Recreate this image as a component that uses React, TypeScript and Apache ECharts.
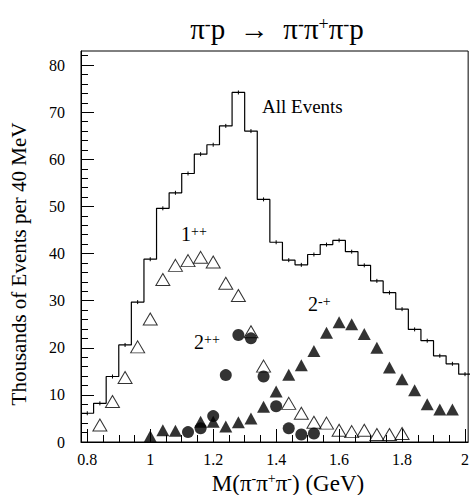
import React, { useEffect, useRef } from "react";
import * as echarts from "echarts";

// ---- data ----
const binStarts = [0.78, 0.82, 0.86, 0.90, 0.94, 0.98, 1.02, 1.06, 1.10, 1.14, 1.18, 1.22, 1.26, 1.30, 1.34, 1.38, 1.42, 1.46, 1.50, 1.54, 1.58, 1.62, 1.66, 1.70, 1.74, 1.78, 1.82, 1.86, 1.90, 1.94, 1.98];
const allEvents = [6.1, 8.2, 13.9, 20.6, 29.7, 38.8, 49.6, 52.9, 57.0, 61.1, 63.1, 67.1, 74.2, 66.0, 51.5, 42.4, 38.6, 37.6, 39.8, 41.9, 42.8, 40.4, 37.5, 34.2, 31.7, 28.2, 23.9, 21.5, 18.3, 16.6, 14.4];
const binWidth = 0.04;

const wave1ppX = [0.84, 0.88, 0.92, 0.96, 1.00, 1.04, 1.08, 1.12, 1.16, 1.20, 1.24, 1.28, 1.32, 1.36, 1.44, 1.48, 1.52, 1.56, 1.60, 1.64, 1.68, 1.72, 1.76, 1.80];
const wave1ppY = [3.6, 8.6, 13.7, 20.2, 26.1, 34.5, 37.5, 38.5, 39.2, 38.2, 33.7, 31.1, 23.4, 16.1, 8.2, 6.1, 4.2, 4.0, 2.5, 2.2, 2.5, 1.6, 1.6, 1.8];

const wave2ppX = [1.12, 1.16, 1.20, 1.24, 1.28, 1.32, 1.36, 1.40, 1.44, 1.48, 1.52];
const wave2ppY = [2.1, 2.9, 5.5, 14.2, 22.7, 22.0, 13.9, 7.6, 2.9, 1.6, 1.8];

const wave2mpX = [1.00, 1.04, 1.08, 1.16, 1.20, 1.24, 1.28, 1.32, 1.36, 1.40, 1.44, 1.48, 1.52, 1.56, 1.60, 1.64, 1.68, 1.72, 1.76, 1.80, 1.84, 1.88, 1.92, 1.96];
const wave2mpY = [1.2, 2.5, 2.4, 4.3, 4.3, 3.3, 4.2, 5.0, 7.5, 10.7, 14.3, 16.3, 19.3, 23.2, 25.4, 25.0, 22.9, 20.0, 15.8, 13.3, 11.0, 8.0, 6.9, 6.9];

const xTickLabels = [0.8, 1.0, 1.2, 1.4, 1.6, 1.8, 2.0];
const xMinorTicks = [0.85, 0.9, 0.95, 1.05, 1.1, 1.15, 1.25, 1.3, 1.35, 1.45, 1.5, 1.55, 1.65, 1.7, 1.75, 1.85, 1.9, 1.95];
const yTickLabels = [0, 10, 20, 30, 40, 50, 60, 70, 80];
const yMinorTicks = [2, 4, 6, 8, 12, 14, 16, 18, 22, 24, 26, 28, 32, 34, 36, 38, 42, 44, 46, 48, 52, 54, 56, 58, 62, 64, 66, 68, 72, 74, 76, 78, 82];

const F = "Liberation Serif";

export default function App() {
  const ref = useRef<HTMLDivElement>(null);
  useEffect(() => {
    const chart = echarts.init(ref.current!, null, { renderer: "svg" });
    const histData: number[][] = binStarts.map((x, i) => [x, allEvents[i]]);
    histData.push([binStarts[binStarts.length - 1] + binWidth, allEvents[allEvents.length - 1]]);
    const errData = binStarts.map((x, i) => [x + binWidth / 2, allEvents[i]]);

    const xBase = { type: "value", min: 0.78, max: 2.01, position: "bottom", splitLine: { show: false } };
    const yBase = { type: "value", min: 0, max: 83, position: "left", splitLine: { show: false } };

    const sup = (fs: number) => ({ fontSize: fs, fontFamily: F, fill: "#000", color: "#000", verticalAlign: "top" });
    const nor = (fs: number) => ({ fontSize: fs, fontFamily: F, fill: "#000", color: "#000" });

    const option: any = {
      animation: false,
      textStyle: { fontFamily: F },
      grid: { left: 81, top: 51, right: 1, bottom: 53, show: true, borderColor: "#000", borderWidth: 1, backgroundColor: "transparent" },
      xAxis: [
        {
          ...xBase,
          axisLine: { show: true, onZero: false, lineStyle: { color: "#000", width: 1 } },
          axisTick: { show: true, inside: true, length: 13, customValues: xTickLabels, lineStyle: { color: "#000" } },
          axisLabel: { customValues: xTickLabels, color: "#000", fontSize: 16, fontFamily: F, margin: 9, formatter: (v: number) => String(Math.round(v * 10) / 10) },
        },
        {
          ...xBase,
          axisLine: { show: false },
          axisTick: { show: true, inside: true, length: 7, customValues: xMinorTicks, lineStyle: { color: "#000" } },
          axisLabel: { show: false },
        },
      ],
      yAxis: [
        {
          ...yBase,
          axisLine: { show: true, onZero: false, lineStyle: { color: "#000", width: 1 } },
          axisTick: { show: true, inside: true, length: 13, customValues: yTickLabels, lineStyle: { color: "#000" } },
          axisLabel: { customValues: yTickLabels, color: "#000", fontSize: 16, fontFamily: F, margin: 16 },
        },
        {
          ...yBase,
          axisLine: { show: false },
          axisTick: { show: true, inside: true, length: 7, customValues: yMinorTicks, lineStyle: { color: "#000" } },
          axisLabel: { show: false },
        },
      ],
      series: [
        {
          type: "line",
          name: "All Events",
          data: histData,
          step: "end",
          showSymbol: false,
          symbol: "none",
          lineStyle: { color: "#000", width: 1.2 },
          z: 2,
        },
        {
          type: "custom",
          name: "errors",
          data: errData,
          z: 2,
          renderItem: (params: any, api: any) => {
            const p = api.coord([api.value(0), api.value(1)]);
            return { type: "line", shape: { x1: p[0], y1: p[1] - 2, x2: p[0], y2: p[1] + 2 }, style: { stroke: "#000", lineWidth: 1 } };
          },
        },
        {
          type: "scatter",
          name: "1++",
          data: wave1ppX.map((x, i) => [x, wave1ppY[i]]),
          symbol: "triangle",
          symbolSize: [14, 12],
          itemStyle: { color: "rgba(255,255,255,0)", borderColor: "#000", borderWidth: 1 },
          z: 3,
        },
        {
          type: "scatter",
          name: "2-+",
          data: wave2mpX.map((x, i) => [x, wave2mpY[i]]),
          symbol: "triangle",
          symbolSize: [13, 12],
          itemStyle: { color: "#000" },
          z: 4,
        },
        {
          type: "scatter",
          name: "2++",
          data: wave2ppX.map((x, i) => [x, wave2ppY[i]]),
          symbol: "circle",
          symbolSize: 12,
          itemStyle: { color: "#000" },
          z: 5,
        },
      ],
      graphic: [
        {
          type: "text", x: 277, y: 29, z: 10,
          style: {
            text: "{n|π}{s|-}{n|p  →  π}{s|-}{n|π}{s|+}{n|π}{s|-}{n|p}",
            rich: { n: nor(29), s: sup(18) },
            font: "29px Liberation Serif",
            align: "center", verticalAlign: "middle", textAlign: "center", textVerticalAlign: "middle",
          },
        },
        {
          type: "text", x: 288, y: 483, z: 10,
          style: {
            text: "{n|M(π}{s|-}{n|π}{s|+}{n|π}{s|-}{n|) (GeV)}",
            rich: { n: nor(23), s: sup(14) },
            font: "23px Liberation Serif",
            align: "center", verticalAlign: "middle", textAlign: "center", textVerticalAlign: "middle",
          },
        },
        {
          type: "text", x: 19, y: 264, rotation: Math.PI / 2, z: 10,
          style: {
            text: "Thousands of Events per 40 MeV",
            font: "21px Liberation Serif", fill: "#000",
            align: "center", verticalAlign: "middle", textAlign: "center", textVerticalAlign: "middle",
          },
        },
        {
          type: "text", x: 262, y: 106.5, z: 10,
          style: { text: "All Events", font: "19px Liberation Serif", fill: "#000", align: "left", verticalAlign: "middle", textAlign: "left", textVerticalAlign: "middle" },
        },
        {
          type: "text", x: 181, y: 234, z: 10,
          style: {
            text: "{n|1}{s|++}", rich: { n: nor(20), s: sup(14) }, font: "20px Liberation Serif",
            align: "left", verticalAlign: "middle", textAlign: "left", textVerticalAlign: "middle",
          },
        },
        {
          type: "text", x: 194, y: 342, z: 10,
          style: {
            text: "{n|2}{s|++}", rich: { n: nor(20), s: sup(14) }, font: "20px Liberation Serif",
            align: "left", verticalAlign: "middle", textAlign: "left", textVerticalAlign: "middle",
          },
        },
        {
          type: "text", x: 308, y: 304, z: 10,
          style: {
            text: "{n|2}{s|-+}", rich: { n: nor(20), s: sup(14) }, font: "20px Liberation Serif",
            align: "left", verticalAlign: "middle", textAlign: "left", textVerticalAlign: "middle",
          },
        },
      ],
    };
    chart.setOption(option);
    return () => chart.dispose();
  }, []);
  return <div ref={ref} style={{ position: "fixed", left: 0, top: 0, width: 472, height: 495, background: "#fff" }} />;
}
